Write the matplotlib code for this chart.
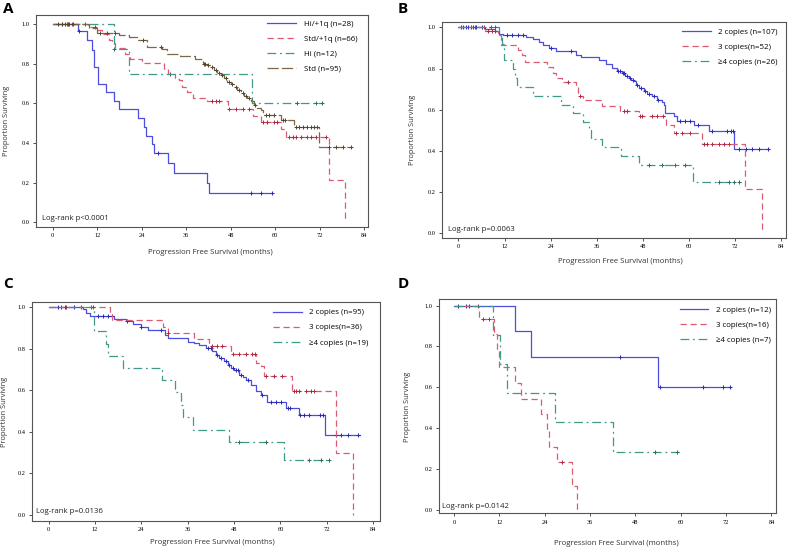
import numpy as np
import matplotlib.pyplot as plt

# ---- panel A : risk groups ----
a_hi1q_t = [6.8, 9.3, 10.5, 11.2, 12.1, 14.3, 16.4, 18.0, 23.1, 24.5, 25.1, 26.8, 27.2, 31.0, 32.7, 41.5, 42.2]
a_hi1q_s = [0.964, 0.92, 0.87, 0.785, 0.70, 0.657, 0.61, 0.57, 0.524, 0.48, 0.435, 0.393, 0.348, 0.297, 0.25, 0.20, 0.15]
a_hi1q_c = [7.0, 28.3, 53.4, 56.2, 59.1]
a_hi1q_end = 59.4

a_std1q_t = [9.6, 11.9, 13.3, 15.3, 16.0, 16.9, 19.6, 20.9, 24.1, 30.0, 31.0, 32.9, 34.0, 34.9, 36.3, 37.9,
             41.7, 47.3, 53.9, 56.1, 61.5, 63.0, 74.6, 78.8]
a_std1q_s = [0.985, 0.97, 0.953, 0.923, 0.903, 0.882, 0.852, 0.827, 0.802, 0.776, 0.751, 0.726, 0.718, 0.684, 0.659, 0.626,
             0.614, 0.571, 0.537, 0.508, 0.47, 0.43, 0.213, 0.0]
a_std1q_c = [3.8, 4.2, 5.1, 8.8, 11.5, 31.6, 43.0, 43.9, 44.8, 47.5, 49.4, 51.2, 53.0, 56.6, 57.9, 59.7, 60.6,
             63.8, 64.7, 65.6, 66.9, 68.7, 69.6, 71.0, 73.7]
a_std1q_end = 78.8

a_hi_t = [16.4, 20.5, 53.8]
a_hi_s = [0.875, 0.75, 0.60]
a_hi_c = [2.5, 4.0, 16.4, 65.8, 71.1, 72.5]
a_hi_end = 72.8

a_std_t = [9.7, 11.9, 17.8, 20.5, 22.7, 25.5, 29.5, 30.9, 34.4, 38.5, 40.5, 41.7, 42.6, 43.5, 44.4, 45.3, 46.2,
           47.1, 48.0, 48.9, 49.8, 50.7, 51.6, 52.5, 53.4, 54.3, 55.2, 56.1, 56.6, 61.5, 65.1, 71.7]
a_std_s = [0.98, 0.955, 0.945, 0.936, 0.919, 0.886, 0.877, 0.852, 0.84, 0.823, 0.80, 0.795, 0.786, 0.769, 0.752, 0.744,
           0.727, 0.710, 0.698, 0.682, 0.668, 0.651, 0.638, 0.626, 0.614, 0.592, 0.576, 0.567, 0.542, 0.516, 0.483, 0.382]
a_std_c = [1.3, 2.4, 3.3, 4.5, 5.5, 12.8, 14.6, 16.9, 24.3, 29.2, 40.9, 41.2, 42.0, 43.0, 43.9, 44.9, 45.7, 46.6,
           47.5, 48.4, 49.3, 50.2, 51.2, 52.0, 53.0, 54.6, 57.5, 58.4, 59.7, 62.0, 62.6, 65.6, 66.5, 67.4, 68.7,
           69.6, 70.5, 71.3, 74.6, 76.4, 78.2, 80.4]
a_std_end = 80.7

# ---- panel B ----
b2_t = [7.0, 9.5, 10.5, 11.5, 17.5, 19.5, 21.0, 22.0, 23.5, 25.3, 30.5, 32.0, 36.6, 38.5, 40.0, 41.2, 42.5, 43.5,
        44.3, 45.0, 45.7, 46.3, 47.0, 48.3, 49.1, 50.4, 51.7, 53.0, 53.5, 53.9, 56.1, 57.0, 61.3, 65.2, 71.7]
b2_s = [0.99, 0.98, 0.97, 0.962, 0.952, 0.942, 0.93, 0.915, 0.90, 0.885, 0.868, 0.855, 0.84, 0.82, 0.803, 0.79,
        0.78, 0.765, 0.754, 0.745, 0.738, 0.72, 0.705, 0.689, 0.677, 0.665, 0.649, 0.635, 0.624, 0.584, 0.568,
        0.547, 0.524, 0.495, 0.41]
b2_c = [0.6, 1.2, 2.0, 2.6, 3.2, 3.8, 4.6, 6.2, 12.7, 14.0, 15.4, 16.7, 24.0, 29.2, 41.5, 42.0, 42.8, 43.2, 44.0,
        44.8, 45.5, 46.5, 47.6, 48.6, 49.6, 50.9, 52.0, 57.8, 59.1, 60.4, 62.5, 66.1, 70.0, 70.9, 71.5, 73.0,
        74.8, 76.5, 78.3, 80.7]
b2_end = 81.0

b3_t = [7.0, 10.2, 11.2, 15.5, 16.5, 17.4, 23.0, 24.5, 25.5, 27.0, 30.5, 31.2, 32.5, 37.5, 42.0, 47.0, 54.0,
        56.1, 63.5, 74.6, 79.0]
b3_s = [0.98, 0.97, 0.915, 0.89, 0.865, 0.83, 0.805, 0.78, 0.755, 0.735, 0.71, 0.665, 0.645, 0.62, 0.595, 0.568,
        0.528, 0.487, 0.434, 0.217, 0.0]
b3_c = [4.2, 6.6, 7.6, 8.6, 9.6, 28.4, 31.6, 43.0, 44.0, 47.4, 47.9, 50.4, 51.7, 53.3, 56.6, 58.3, 60.4, 63.9,
        64.8, 66.1, 67.8, 69.1, 70.4]
b3_end = 79.0

b4_t = [10.6, 11.3, 11.9, 14.1, 14.6, 15.2, 19.3, 26.6, 29.7, 32.5, 34.0, 34.6, 37.5, 42.4, 47.0, 61.0]
b4_s = [0.962, 0.92, 0.84, 0.80, 0.755, 0.712, 0.667, 0.625, 0.583, 0.54, 0.50, 0.46, 0.42, 0.375, 0.333, 0.25]
b4_c = [8.5, 9.4, 49.6, 53.0, 56.5, 59.1, 67.8, 70.4, 71.7, 73.0]
b4_end = 73.5

# ---- panel C ----
c2_t = [8.8, 9.7, 10.7, 17.0, 20.0, 21.8, 23.9, 25.6, 30.0, 31.0, 36.0, 37.5, 38.9, 40.7, 42.4, 43.3, 44.1, 45.4,
        46.3, 47.1, 48.0, 49.3, 50.2, 51.0, 52.3, 53.6, 54.9, 56.6, 61.4, 64.8, 71.6]
c2_s = [0.99, 0.974, 0.957, 0.946, 0.932, 0.919, 0.903, 0.889, 0.868, 0.85, 0.835, 0.828, 0.82, 0.804, 0.788, 0.772,
        0.756, 0.739, 0.723, 0.707, 0.699, 0.675, 0.663, 0.651, 0.627, 0.595, 0.579, 0.543, 0.514, 0.482, 0.386]
c2_c = [2.3, 3.2, 4.1, 6.6, 12.7, 14.0, 15.3, 16.4, 20.4, 24.0, 29.1, 41.2, 42.0, 43.7, 44.6, 45.8, 46.7, 47.6,
        48.4, 49.0, 49.8, 51.5, 55.3, 57.5, 58.8, 60.1, 61.9, 62.4, 65.2, 66.0, 67.3, 70.2, 71.0, 74.3, 75.6,
        77.4, 80.2]
c2_end = 80.6

c3_t = [15.8, 16.3, 29.6, 30.8, 37.7, 41.5, 47.1, 53.8, 54.9, 55.8, 63.1, 74.3, 78.7]
c3_s = [0.972, 0.94, 0.905, 0.875, 0.845, 0.812, 0.775, 0.731, 0.715, 0.667, 0.595, 0.297, 0.0]
c3_c = [4.5, 8.4, 11.0, 31.0, 42.4, 43.7, 45.0, 47.6, 49.3, 51.0, 52.7, 53.5, 56.2, 58.4, 60.3, 63.5, 64.0,
        64.8, 66.6, 67.9, 68.7]
c3_end = 78.7

c4_t = [11.7, 14.9, 15.3, 19.3, 29.4, 32.6, 34.2, 34.7, 37.3, 46.8, 61.0]
c4_s = [0.884, 0.825, 0.765, 0.707, 0.65, 0.59, 0.53, 0.47, 0.41, 0.35, 0.265]
c4_c = [11.4, 49.4, 56.2, 67.3, 70.4, 72.5]
c4_end = 73.0

# ---- panel D ----
d2_t = [16.2, 20.5, 53.9]
d2_s = [0.875, 0.75, 0.60]
d2_c = [1.0, 3.2, 4.1, 43.8, 54.4, 65.9, 71.2, 72.9]
d2_end = 73.2

d3_t = [6.6, 10.7, 11.4, 12.0, 16.1, 17.7, 23.1, 24.5, 25.1, 27.2, 31.2, 32.5]
d3_s = [0.933, 0.86, 0.78, 0.70, 0.62, 0.545, 0.47, 0.39, 0.31, 0.235, 0.117, 0.0]
d3_c = [6.3, 7.6, 9.3, 28.5]
d3_end = 32.5

d4_t = [10.3, 12.1, 14.0, 26.7, 42.1]
d4_s = [0.857, 0.714, 0.571, 0.429, 0.286]
d4_c = [53.3, 59.1]
d4_end = 59.4

labels_a = ["Hi/+1q (n=28)", "Std/+1q (n=66)", "Hi (n=12)", "Std (n=95)"]
labels_b = ["2 copies (n=107)", "3 copies(n=52)", "\u22654 copies (n=26)"]
labels_c = ["2 copies (n=95)", "3 copies(n=36)", "\u22654 copies (n=19)"]
labels_d = ["2 copies (n=12)", "3 copies(n=16)", "\u22654 copies (n=7)"]
pvals = ["Log-rank p<0.0001", "Log-rank p=0.0063", "Log-rank p=0.0136", "Log-rank p=0.0142"]
xticks = [0, 12, 24, 36, 48, 60, 72, 84]
yticks = [0.0, 0.2, 0.4, 0.6, 0.8, 1.0]

# styles
BLUE = ('#4d4de0', '#2a2ab8', '-')
RED = ('#dd5b70', '#b02a40', (0, (5, 3)))
TEAL = ('#3f9a8a', '#2b6f62', (0, (7, 3, 1.5, 3)))
BROWN = ('#7d6748', '#584630', (0, (9, 2.5)))

SANS = 'Open Sans'
SERIF = 'Liberation Serif'


def km_curve(ax, t, s, cens, end, style, label):
    color, mcolor, ls = style
    tt = np.r_[0.0, t, end]
    ss = np.r_[1.0, s, s[-1]]
    line, = ax.step(tt, ss, where='post', color=color, lw=0.9, ls=ls, label=label)
    cens = np.asarray(cens)
    idx = np.searchsorted(np.asarray(t), cens, side='right')
    cy = np.r_[1.0, s][idx]
    ax.plot(cens, cy, ls='none', marker='+', color=mcolor, ms=3.5, mew=0.7)
    return line


def style_axes(ax, xlim, ylim, ylab_x, xlab_pos, pval, pval_pos, leg_pos):
    ax.set_xlim(*xlim)
    ax.set_ylim(*ylim)
    ax.set_xticks(xticks)
    ax.set_yticks(yticks)
    ax.set_yticklabels(['%.1f' % v for v in yticks])
    for lab in ax.get_xticklabels() + ax.get_yticklabels():
        lab.set_fontfamily(SERIF)
        lab.set_fontsize(4.6)
    ax.tick_params(length=2.5, width=0.6, pad=2, color='#333333')
    for sp in ax.spines.values():
        sp.set_linewidth(0.8)
        sp.set_color('#555555')
    ax.set_ylabel('Proportion Surviving', fontsize=5.3, family=SANS, color='#333333')
    ax.yaxis.label.set_va('center')
    ax.yaxis.set_label_coords(ylab_x, 0.5)
    ax.set_xlabel('Progression Free Survival (months)', fontsize=5.6, family=SANS, color='#333333')
    ax.xaxis.label.set_va('center')
    ax.xaxis.set_label_coords(*xlab_pos)
    ax.text(pval_pos[0], pval_pos[1], pval, transform=ax.transAxes, fontsize=5.6,
            family=SANS, va='center', ha='left', color='#222222')
    ax.legend(loc='upper left', bbox_to_anchor=leg_pos, frameon=False,
              prop={'family': SANS, 'size': 5.7}, handlelength=3.6, handletextpad=1.0,
              labelspacing=0.95, borderpad=0, borderaxespad=0)


fig = plt.figure(figsize=(7.88, 5.48), dpi=100)

axA = fig.add_axes([0.0457, 0.5858, 0.4217, 0.3869])
km_curve(axA, a_hi1q_t, a_hi1q_s, a_hi1q_c, a_hi1q_end, BLUE, labels_a[0])
km_curve(axA, a_std1q_t, a_std1q_s, a_std1q_c, a_std1q_end, RED, labels_a[1])
km_curve(axA, a_hi_t, a_hi_s, a_hi_c, a_hi_end, TEAL, labels_a[2])
km_curve(axA, a_std_t, a_std_s, a_std_c, a_std_end, BROWN, labels_a[3])
style_axes(axA, (-4.5, 85.1), (-0.024, 1.047), -0.09, (0.524, -0.118), pvals[0], (0.017, 0.038), (0.696, 0.975))

axB = fig.add_axes([0.5609, 0.5657, 0.4365, 0.3942])
km_curve(axB, b2_t, b2_s, b2_c, b2_end, BLUE, labels_b[0])
km_curve(axB, b3_t, b3_s, b3_c, b3_end, RED, labels_b[1])
km_curve(axB, b4_t, b4_s, b4_c, b4_end, TEAL, labels_b[2])
style_axes(axB, (-4.3, 85.3), (-0.023, 1.026), -0.087, (0.52, -0.111), pvals[1], (0.017, 0.04), (0.698, 0.972))

axC = fig.add_axes([0.04, 0.0498, 0.4423, 0.3985])
km_curve(axC, c2_t, c2_s, c2_c, c2_end, BLUE, labels_c[0])
km_curve(axC, c3_t, c3_s, c3_c, c3_end, RED, labels_c[1])
km_curve(axC, c4_t, c4_s, c4_c, c4_end, TEAL, labels_c[2])
style_axes(axC, (-4.45, 85.8), (-0.029, 1.024), -0.077, (0.52, -0.098), pvals[2], (0.013, 0.041), (0.693, 0.97))

axD = fig.add_axes([0.5571, 0.063, 0.4277, 0.3905])
km_curve(axD, d2_t, d2_s, d2_c, d2_end, BLUE, labels_d[0])
km_curve(axD, d3_t, d3_s, d3_c, d3_end, RED, labels_d[1])
km_curve(axD, d4_t, d4_s, d4_c, d4_end, TEAL, labels_d[2])
style_axes(axD, (-3.97, 85.2), (-0.017, 1.03), -0.092, (0.527, -0.138), pvals[3], (0.01, 0.034), (0.715, 0.967))

for letter, (px, py) in zip('ABCD', [(8, 9), (403, 9), (8, 284), (403, 284)]):
    fig.text(px / 788, 1 - py / 548, letter, fontsize=11, fontweight='bold', family=SANS,
             ha='center', va='center')

fig.savefig('out.png', dpi=100)
